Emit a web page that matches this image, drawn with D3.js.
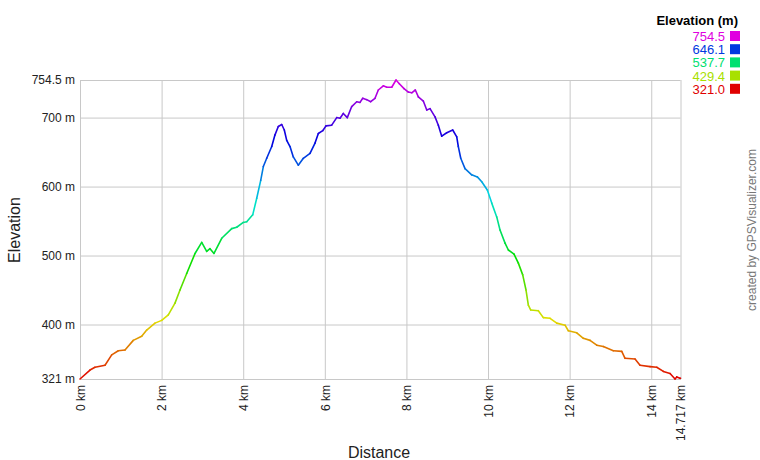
<!DOCTYPE html>
<html>
<head>
<meta charset="utf-8">
<script src="https://cdn.jsdelivr.net/npm/d3@7"></script>
<style>
  html, body { margin: 0; padding: 0; background: #fff; }
  svg { display: block; font-family: "Liberation Sans", Arial, sans-serif; }
</style>
</head>
<body>
<svg id="chart" width="760" height="460"></svg>
<script>
// Track profile: distance (km) and elevation (m)
const distanceKm = [0,0.245,0.368,0.613,0.777,0.939,1.103,1.306,1.512,1.635,1.838,2.002,2.164,2.328,2.451,2.615,2.819,2.983,3.105,3.186,3.284,3.473,3.718,3.841,4.002,4.086,4.233,4.331,4.429,4.493,4.576,4.699,4.779,4.860,4.944,5.007,5.066,5.147,5.228,5.350,5.473,5.637,5.760,5.841,5.949,6.029,6.169,6.292,6.373,6.453,6.551,6.659,6.782,6.863,6.929,7.027,7.125,7.230,7.311,7.434,7.517,7.640,7.745,7.826,7.941,8.047,8.130,8.218,8.292,8.414,8.498,8.578,8.701,8.782,8.865,8.988,9.135,9.233,9.272,9.331,9.436,9.600,9.738,9.846,9.983,10.091,10.213,10.294,10.417,10.498,10.637,10.743,10.850,10.931,10.988,11.047,11.233,11.355,11.520,11.684,11.887,11.968,12.174,12.336,12.500,12.664,12.826,13.071,13.277,13.358,13.603,13.725,13.971,14.135,14.297,14.461,14.583,14.625,14.706,14.717];
const elevationM = [321,334,338,341,356,362,363,377,383,392,402,406,414,431,450,474,503,519,506,510,503,525,539,541,548,549,559,583,609,629,641,658,675,687,690,682,667,658,643,631,641,648,663,677,681,688,689,700,699,706,700,716,723,722,728,726,723,728,740,746,744,744,754.5,749,742,737,736,740,730,724,711,713,701,689,673,678,682,672,658,641,626,617,614,607,595,576,556,537,518,508,502,489,472,450,428,421,420,410,409,402,399,391,388,380,377,370,368,362,361,351,350,341,339,338,332,329,321,324,322,322];

const yTicks = [321, 400, 500, 600, 700, 754.5];
const xTicks = [0, 2, 4, 6, 8, 10, 12, 14, 14.717];
const legendValues = [754.5, 646.1, 537.7, 429.4, 321.0];

(function () {
const svg = d3.select("#chart");
const pLeft = 80, pRight = 680.5, pTop = 80, pBottom = 379;

const x = d3.scaleLinear().domain([0, 14.717]).range([pLeft, pRight]);
const y = d3.scaleLinear().domain([321, 754.5]).range([pBottom, pTop]);
const minE = 321, maxE = 754.5;
const colorFor = e => d3.hsl(300 * (e - minE) / (maxE - minE), 1, 0.44).toString();

// Axes + grid
const yAxis = d3.axisLeft(y).tickValues(yTicks)
  .tickFormat(d => (d === 754.5 ? "754.5" : d3.format("d")(d)) + " m")
  .tickSizeInner(-(pRight - pLeft)).tickSizeOuter(0).tickPadding(5);
const gy = svg.append("g").attr("transform", `translate(${pLeft},0)`).call(yAxis);

const xAxis = d3.axisBottom(x).tickValues(xTicks)
  .tickFormat(d => (d === 14.717 ? "14.717" : d3.format("d")(d)) + " km")
  .tickSizeInner(-(pBottom - pTop)).tickSizeOuter(0);
const gx = svg.append("g").attr("transform", `translate(0,${pBottom})`).call(xAxis);

[gx, gy].forEach(g => {
  g.selectAll(".tick line").attr("stroke", "#c8c8c8");
  g.select(".domain").attr("stroke", "#c8c8c8");
  g.selectAll("text").attr("fill", "#222").style("font-size", "12px")
    .style("font-family", "'Liberation Sans', Arial, sans-serif");
});
gx.selectAll(".tick text")
  .attr("transform", "rotate(-90)")
  .attr("text-anchor", "end")
  .attr("x", -6).attr("y", 0).attr("dy", "0.35em");

// Elevation line, coloured segments
const pts = distanceKm.map((d, i) => [d, elevationM[i]]);
const segs = d3.pairs(pts);
svg.append("g").selectAll("line").data(segs).join("line")
  .attr("x1", d => x(d[0][0])).attr("y1", d => y(d[0][1]))
  .attr("x2", d => x(d[1][0])).attr("y2", d => y(d[1][1]))
  .attr("stroke", d => colorFor((d[0][1] + d[1][1]) / 2))
  .attr("stroke-width", 1.6).attr("stroke-linecap", "round");

// Axis titles
svg.append("text").attr("x", 379).attr("y", 458).attr("text-anchor", "middle")
  .style("font-size", "16px").attr("fill", "#222").text("Distance");
svg.append("text").attr("transform", "translate(20,230) rotate(-90)").attr("text-anchor", "middle")
  .style("font-size", "16px").attr("fill", "#222").text("Elevation");

// Legend
svg.append("text").attr("x", 738).attr("y", 25).attr("text-anchor", "end")
  .style("font-size", "13px").style("font-weight", "bold").attr("fill", "#000").text("Elevation (m)");
const lg = svg.append("g").selectAll("g").data(legendValues).join("g")
  .attr("transform", (d, i) => `translate(0,${31 + i * 13.2})`);
lg.append("text").attr("x", 725).attr("y", 10).attr("text-anchor", "end")
  .style("font-size", "13px").attr("fill", d => colorFor(d)).text(d => d.toFixed(1));
lg.append("rect").attr("x", 730).attr("y", 0).attr("width", 10).attr("height", 10)
  .attr("fill", d => colorFor(d));

// Credit
svg.append("text").attr("transform", "translate(756,230) rotate(-90)").attr("text-anchor", "middle")
  .style("font-size", "12px").attr("fill", "#777").text("created by GPSVisualizer.com");
})();
</script>
</body>
</html>
